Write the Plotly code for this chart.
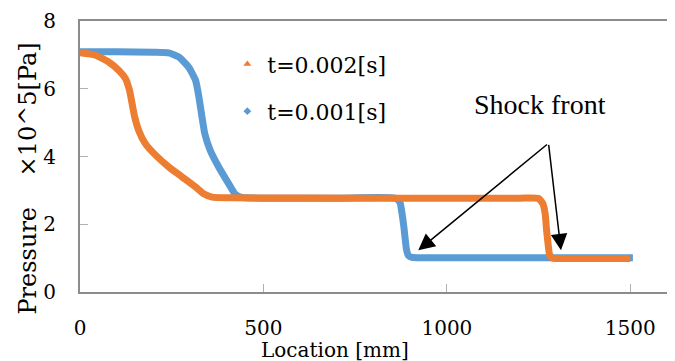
import plotly.graph_objects as go

# t = 0.001 s (blue)
x_t001 = [0, 100, 200, 242, 269, 296, 315, 324, 331, 340, 355, 378, 405, 422, 440, 500, 700, 860,
          872, 878, 883, 887, 890, 895, 905, 920, 1000, 1200, 1400, 1507]
p_t001 = [7.09, 7.09, 7.08, 7.06, 6.94, 6.64, 6.25, 5.76, 5.27, 4.68, 4.18, 3.69, 3.20, 2.90, 2.79, 2.77, 2.77, 2.77,
          2.65, 2.30, 1.90, 1.50, 1.25, 1.08, 1.02, 1.01, 1.01, 1.01, 1.01, 1.01]

# t = 0.002 s (orange)
x_t002 = [0, 42, 78, 106, 124, 135, 142, 149, 160, 178, 206, 242, 278, 315, 337, 360, 405,
          800, 1200, 1250, 1262, 1268, 1272, 1276, 1280, 1288, 1300, 1400, 1500]
p_t002 = [7.06, 6.99, 6.79, 6.54, 6.30, 5.95, 5.56, 5.17, 4.77, 4.38, 4.04, 3.69, 3.40, 3.10, 2.90, 2.80, 2.78,
          2.77, 2.77, 2.76, 2.60, 2.30, 1.80, 1.40, 1.10, 1.00, 0.99, 0.99, 0.99]

x_ticks = [0, 500, 1000, 1500]
y_ticks = [0, 2, 4, 6, 8]

BLUE = "#5B9BD5"
ORANGE = "#ED7D31"
SERIF = "DejaVu Serif"

fig = go.Figure()
fig.add_trace(go.Scatter(x=x_t001, y=p_t001, mode="lines", line=dict(color=BLUE, width=7, shape="spline", smoothing=0.5),
                         showlegend=False, hoverinfo="skip"))
fig.add_trace(go.Scatter(x=x_t002, y=p_t002, mode="lines", line=dict(color=ORANGE, width=7, shape="spline", smoothing=0.5),
                         showlegend=False, hoverinfo="skip"))
# legend entries
fig.add_trace(go.Scatter(x=[None], y=[None], mode="markers", name="t=0.002[s]",
                         marker=dict(symbol="triangle-up", size=7, color=ORANGE), legend="legend"))
fig.add_trace(go.Scatter(x=[None], y=[None], mode="markers", name="t=0.001[s]",
                         marker=dict(symbol="diamond", size=6, color=BLUE), legend="legend2"))

axis_common = dict(showline=True, linecolor="#8c8c8c", linewidth=2, mirror=True, ticks="inside",
                   ticklen=8, tickcolor="#b0b0b0", tickwidth=1, showgrid=False, zeroline=False,
                   automargin=False, tickfont=dict(family=SERIF, size=20, color="black"))

fig.update_layout(
    width=667, height=353,
    margin=dict(l=72, r=8, t=13, b=69, autoexpand=False),
    paper_bgcolor="white", plot_bgcolor="white",
    xaxis=dict(range=[0, 1600], tickvals=x_ticks, ticklabelstandoff=17, **axis_common),
    yaxis=dict(range=[0, 8], tickvals=y_ticks, ticklabelstandoff=18, **axis_common),
    legend=dict(x=0.251, y=0.918, xanchor="left", yanchor="top", bgcolor="rgba(0,0,0,0)",
                font=dict(family=SERIF, size=22, color="black")),
    legend2=dict(x=0.251, y=0.744, xanchor="left", yanchor="top", bgcolor="rgba(0,0,0,0)",
                 font=dict(family=SERIF, size=22, color="black")),
)

fig.add_annotation(text="Location [mm]", xref="paper", yref="paper", x=0.435, y=-0.215,
                   xanchor="center", yanchor="middle", showarrow=False,
                   font=dict(family=SERIF, size=20, color="black"))
fig.add_annotation(text="Pressure\u00a0\u00a0\u00a0\u00a0×10^5[Pa]", xref="paper", yref="paper", x=-0.088, y=0.42,
                   xanchor="center", yanchor="middle", showarrow=False, textangle=-90,
                   font=dict(family=SERIF, size=24, color="black"))
fig.add_annotation(text="Shock front", xref="paper", yref="paper", x=0.783, y=0.693,
                   xanchor="center", yanchor="middle", showarrow=False,
                   font=dict(family="Liberation Serif", size=28, color="black"))
for tip_x in (922, 1311):
    fig.add_annotation(x=tip_x, y=1.23, ax=1277, ay=4.39, xref="x", yref="y", axref="x", ayref="y",
                       text="", showarrow=True, arrowhead=2, arrowsize=2.2, arrowwidth=1.5, arrowcolor="black")

fig.write_html("out.html")
